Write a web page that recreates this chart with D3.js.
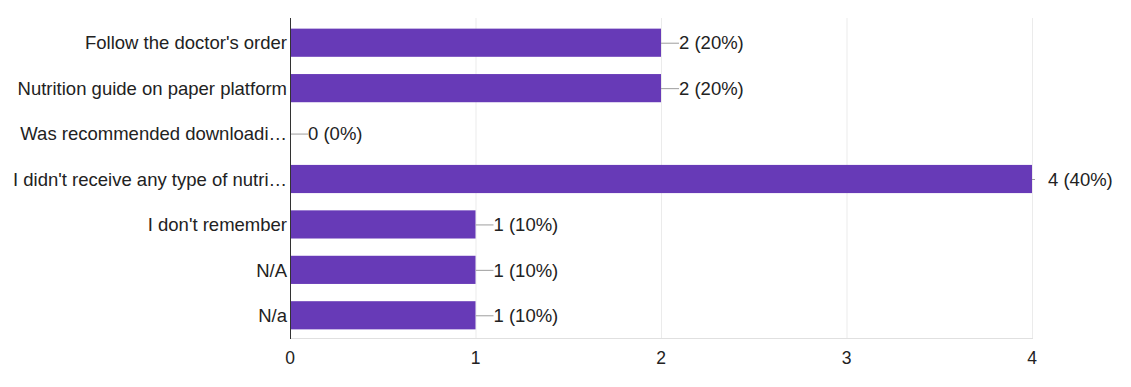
<!DOCTYPE html>
<html>
<head>
<meta charset="utf-8">
<script src="https://cdn.jsdelivr.net/npm/d3@7"></script>
<style>
  body { margin: 0; background: #fff; }
  svg text { font-family: "Liberation Sans", Arial, sans-serif; fill: #222; }
</style>
</head>
<body>
<div id="chart"></div>
<script>
const categories = [
    "Follow the doctor's order",
    'Nutrition guide on paper platform',
    'Was recommended downloadi\u2026',
    "I didn't receive any type of nutri\u2026",
    "I don't remember",
    'N/A',
    'N/a'
];
const counts = [2, 2, 0, 4, 1, 1, 1];
const percents = ['20%', '20%', '0%', '40%', '10%', '10%', '10%'];
const xTicks = [0, 1, 2, 3, 4];

const width = 1131;
const height = 387;
const paddingLeft = 290;
const paddingRight = 99;
const paddingTop = 20;
const paddingBottom = 49;
const fontSize = 18.5;

const svg = d3.select('#chart').append('svg')
    .attr('width', width)
    .attr('height', height);

const xScale = d3.scaleLinear()
    .domain([0, 4])
    .range([paddingLeft, width - paddingRight]);

const yScale = d3.scaleBand()
    .domain(categories)
    .range([paddingTop, height - paddingBottom])
    .paddingInner(0.38)
    .paddingOuter(0.19);

// 网格线
svg.append('g')
    .selectAll('line')
    .data(xTicks.slice(1))
    .join('line')
    .attr('x1', (d) => xScale(d) + 0.5)
    .attr('x2', (d) => xScale(d) + 0.5)
    .attr('y1', paddingTop - 2)
    .attr('y2', height - paddingBottom)
    .attr('stroke', '#ebebeb');

// 底部线
svg.append('line')
    .attr('x1', paddingLeft)
    .attr('x2', xScale(4) + 1)
    .attr('y1', height - paddingBottom + 0.5)
    .attr('y2', height - paddingBottom + 0.5)
    .attr('stroke', '#e0e0e0');

// 柱子
svg.append('g')
    .selectAll('rect')
    .data(counts)
    .join('rect')
    .attr('x', xScale(0))
    .attr('y', (d, i) => yScale(categories[i]))
    .attr('width', (d) => xScale(d) - xScale(0))
    .attr('height', yScale.bandwidth())
    .attr('fill', '#673ab7');

// 引线和数值标签
const labels = svg.append('g');
counts.forEach((d, i) => {
    const cy = yScale(categories[i]) + yScale.bandwidth() / 2;
    const x0 = xScale(d);
    const isMax = d === d3.max(counts);
    labels.append('line')
        .attr('x1', x0)
        .attr('x2', x0 + (isMax ? 3 : 18))
        .attr('y1', cy + 0.5)
        .attr('y2', cy + 0.5)
        .attr('stroke', '#9e9e9e');
    labels.append('text')
        .attr('x', x0 + (isMax ? 16 : 18))
        .attr('y', cy)
        .attr('dy', '0.36em')
        .attr('font-size', fontSize)
        .text(`${d} (${percents[i]})`);
});

// 分类标签
svg.append('g')
    .selectAll('text')
    .data(categories)
    .join('text')
    .attr('x', paddingLeft - 3)
    .attr('y', (d) => yScale(d) + yScale.bandwidth() / 2)
    .attr('dy', '0.36em')
    .attr('text-anchor', 'end')
    .attr('font-size', fontSize)
    .text((d) => d);

// x轴刻度
svg.append('g')
    .selectAll('text')
    .data(xTicks)
    .join('text')
    .attr('x', (d) => xScale(d))
    .attr('y', height - paddingBottom + 26)
    .attr('text-anchor', 'middle')
    .attr('font-size', 17.5)
    .attr('fill', '#444')
    .text((d) => d);

// y轴线
svg.append('line')
    .attr('x1', paddingLeft + 0.5)
    .attr('x2', paddingLeft + 0.5)
    .attr('y1', paddingTop - 2)
    .attr('y2', height - paddingBottom + 1)
    .attr('stroke', '#333');
</script>
</body>
</html>
